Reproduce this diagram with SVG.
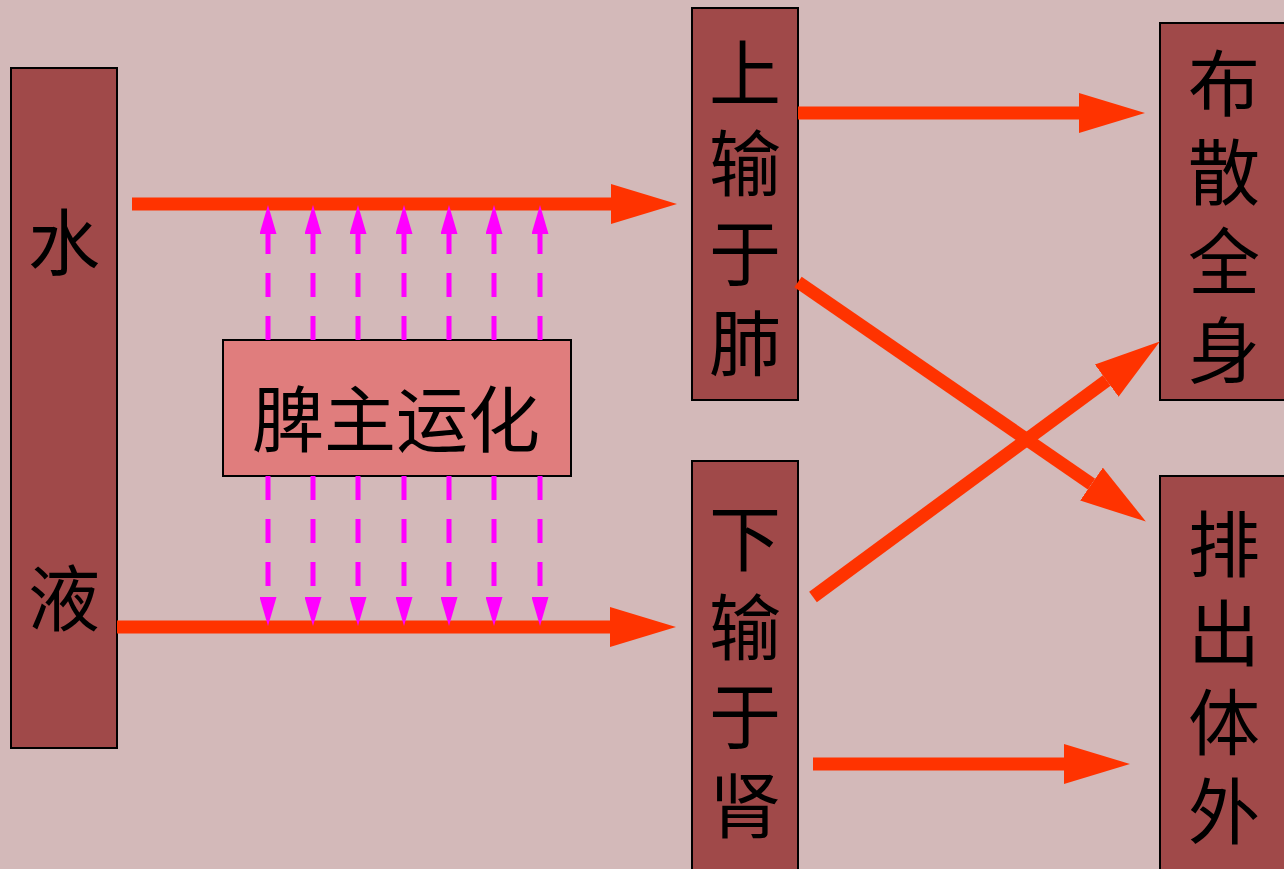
<svg xmlns="http://www.w3.org/2000/svg" width="1284" height="869" viewBox="0 0 1284 869">
  <defs>
    <style>
      .box { fill: #A04949; stroke: #000; stroke-width: 2; }
      .core { fill: #E07D7D; stroke: #000; stroke-width: 2; }
      .t { font-family: "Noto Sans CJK SC", "Noto Sans CJK TC", sans-serif; font-size: 72px; fill: #000; text-anchor: middle; dominant-baseline: central; }
      .v { font-family: "Noto Sans CJK SC", "Noto Sans CJK TC", sans-serif; font-size: 72px; fill: #000; text-anchor: start; writing-mode: tb; glyph-orientation-vertical: 0; }
      .red { stroke: #FF3300; stroke-width: 13; fill: none; marker-end: url(#redHead); }
      .mag { stroke: #FF00FF; stroke-width: 5; fill: none; stroke-dasharray: 24 19; marker-end: url(#magHead); }
    </style>
    <marker id="redHead" markerUnits="userSpaceOnUse" viewBox="0 0 66 40" markerWidth="66" markerHeight="40" refX="0" refY="20" orient="auto">
      <path d="M0,0 L66,20 L0,40 Z" fill="#FF3300"/>
    </marker>
    <marker id="magHead" markerUnits="userSpaceOnUse" viewBox="0 0 29 17" markerWidth="29" markerHeight="17" refX="0" refY="8.5" orient="auto">
      <path d="M0,0 L29,8.5 L0,17 Z" fill="#FF00FF"/>
    </marker>
  </defs>

  <rect x="0" y="0" width="1284" height="869" fill="#D3B9B9"/>

  <g id="node-water">
    <rect class="box" x="11" y="68" width="106" height="680"/>
    <text class="t" x="64" y="237">水</text>
    <text class="t" x="64" y="593">液</text>
  </g>

  <g id="node-spleen">
    <rect class="core" x="223" y="340" width="348" height="136"/>
    <text class="t" x="396" y="414">脾主运化</text>
  </g>

  <g id="node-lung">
    <rect class="box" x="692" y="8" width="106" height="392"/>
    <text class="v" x="745" y="37" letter-spacing="18">上输于肺</text>
  </g>

  <g id="node-kidney">
    <rect class="box" x="692" y="461" width="106" height="420"/>
    <text class="v" x="745" y="502" letter-spacing="17">下输于肾</text>
  </g>

  <g id="node-spread">
    <rect class="box" x="1160" y="23" width="130" height="377"/>
    <text class="v" x="1224" y="47" letter-spacing="17">布散全身</text>
  </g>

  <g id="node-excrete">
    <rect class="box" x="1160" y="476" width="130" height="405"/>
    <text class="v" x="1224" y="508" letter-spacing="17">排出体外</text>
  </g>

  <g id="connectors">
    <line class="red" x1="132" y1="204" x2="611" y2="204"/>
    <line class="red" x1="117" y1="627" x2="610" y2="627"/>
    <line class="red" x1="798" y1="113" x2="1079" y2="113"/>
    <line class="red" x1="798" y1="282" x2="1091.5" y2="484.1"/>
    <line class="red" x1="813" y1="597" x2="1106.7" y2="380.6"/>
    <line class="red" x1="813" y1="764" x2="1064" y2="764"/>

    <line class="mag" x1="268" y1="340" x2="268" y2="234"/>
    <line class="mag" x1="313" y1="340" x2="313" y2="234"/>
    <line class="mag" x1="358" y1="340" x2="358" y2="234"/>
    <line class="mag" x1="404" y1="340" x2="404" y2="234"/>
    <line class="mag" x1="449" y1="340" x2="449" y2="234"/>
    <line class="mag" x1="494" y1="340" x2="494" y2="234"/>
    <line class="mag" x1="540" y1="340" x2="540" y2="234"/>

    <line class="mag" x1="268" y1="476" x2="268" y2="597"/>
    <line class="mag" x1="313" y1="476" x2="313" y2="597"/>
    <line class="mag" x1="358" y1="476" x2="358" y2="597"/>
    <line class="mag" x1="404" y1="476" x2="404" y2="597"/>
    <line class="mag" x1="449" y1="476" x2="449" y2="597"/>
    <line class="mag" x1="494" y1="476" x2="494" y2="597"/>
    <line class="mag" x1="540" y1="476" x2="540" y2="597"/>
  </g>
</svg>
